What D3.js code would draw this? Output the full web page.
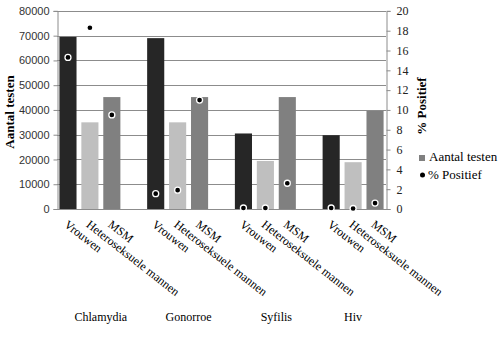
<!DOCTYPE html>
<html>
<head>
<meta charset="utf-8">
<script src="https://cdn.jsdelivr.net/npm/d3@7"></script>
<style>
  body { margin: 0; background: #fff; }
  svg { display: block; }
</style>
</head>
<body>
<svg id="chart" width="500" height="339"></svg>
<script>
// ---- data ----
const groups = ["Chlamydia", "Gonorroe", "Syfilis", "Hiv"];
const subgroups = ["Vrouwen", "Heteroseksuele mannen", "MSM"];
const testsVrouwen = [69500, 69000, 30500, 29800];
const testsHetero  = [35000, 35000, 19400, 18900];
const testsMSM     = [45200, 45200, 45200, 39600];
const pctVrouwen = [15.3, 1.55, 0.1, 0.1];
const pctHetero  = [18.3, 1.9, 0.1, 0.05];
const pctMSM     = [9.5, 11.0, 2.6, 0.6];
const leftTicks  = [0, 10000, 20000, 30000, 40000, 50000, 60000, 70000, 80000];
const rightTicks = [0, 2, 4, 6, 8, 10, 12, 14, 16, 18, 20];
const seriesNames = ["Aantal testen", "% Positief"];

const testsBySub = [testsVrouwen, testsHetero, testsMSM];
const pctBySub = [pctVrouwen, pctHetero, pctMSM];
const subColors = ["#262626", "#bfbfbf", "#808080"];

// build slot list: 3 bars per group, a blank slot between groups
const slots = [];
groups.forEach((g, gi) => {
  subgroups.forEach((s, si) => {
    slots.push({key: g + "|" + s, group: g, gi, sub: s, si,
      tests: testsBySub[si][gi], pct: pctBySub[si][gi]});
  });
  if (gi < groups.length - 1) slots.push({key: "blank" + gi, blank: true, gi});
});

const svg = d3.select("#chart");
const L = 57, R = 386, T = 10.9, B = 209;
const serif = "Liberation Serif, Times New Roman, serif";

const x = d3.scaleBand().domain(slots.map(d => d.key)).range([L, R])
  .paddingInner(0.22).paddingOuter(0.11);
const y = d3.scaleLinear().domain([0, 80000]).range([B, T]);
const y2 = d3.scaleLinear().domain([0, 20]).range([B, T]);

// gridlines
svg.append("g").selectAll("line").data(leftTicks.slice(1)).join("line")
  .attr("x1", L).attr("x2", R)
  .attr("y1", d => Math.round(y(d)) + 0.5).attr("y2", d => Math.round(y(d)) + 0.5)
  .attr("stroke", "#8c8c8c").attr("stroke-width", 1);

// bars
const barData = slots.filter(d => !d.blank);
svg.append("g").selectAll("rect").data(barData).join("rect")
  .attr("x", d => x(d.key))
  .attr("width", x.bandwidth())
  .attr("y", d => y(d.tests))
  .attr("height", d => B - y(d.tests))
  .attr("fill", d => subColors[d.si]);

// left axis
const gL = svg.append("g").attr("transform", `translate(${L + 0.5},0)`)
  .call(d3.axisLeft(y).tickValues(leftTicks).tickSize(4).tickPadding(4).tickFormat(d3.format("d")));
gL.select(".domain").attr("stroke", "#8c8c8c");
gL.selectAll(".tick line").attr("stroke", "#8c8c8c");
gL.selectAll("text").attr("font-family", "Liberation Sans, Arial, sans-serif")
  .attr("font-size", 11).attr("fill", "#333");

// right axis
const gR = svg.append("g").attr("transform", `translate(${R + 0.5},0)`)
  .call(d3.axisRight(y2).tickValues(rightTicks).tickSize(4).tickPadding(6));
gR.select(".domain").attr("stroke", "#8c8c8c");
gR.selectAll(".tick line").attr("stroke", "#8c8c8c");
gR.selectAll("text").attr("font-family", serif)
  .attr("font-size", 12).attr("fill", "#222");

// baseline
svg.append("line").attr("x1", L - 3).attr("x2", R + 4)
  .attr("y1", B + 0.5).attr("y2", B + 0.5).attr("stroke", "#8c8c8c");

// dots
svg.append("g").selectAll("circle").data(barData).join("circle")
  .attr("cx", d => x(d.key) + x.bandwidth() / 2)
  .attr("cy", d => y2(d.pct))
  .attr("r", 3)
  .attr("fill", "#000").attr("stroke", "#fff").attr("stroke-width", 1.3);

// category labels (rotated)
svg.append("g").selectAll("text").data(barData).join("text")
  .attr("transform", d => `translate(${x(d.key) + x.bandwidth() / 2 - 4.5},${B + 17}) rotate(38)`)
  .attr("font-family", serif)
  .attr("font-size", 12).attr("fill", "#000")
  .text(d => d.sub);

// group labels
groups.forEach((g, gi) => {
  const gs = slots.filter(s => s.gi === gi);
  const x0 = x(gs[0].key) - x.step() * x.paddingInner() / 2;
  const x1 = x(gs[gs.length - 1].key) + x.bandwidth() + x.step() * x.paddingInner() / 2;
  svg.append("text")
    .attr("x", (x0 + x1) / 2).attr("y", 321)
    .attr("text-anchor", "middle")
    .attr("font-family", serif)
    .attr("font-size", 12).attr("fill", "#000")
    .text(g);
});

// axis titles
svg.append("text")
  .attr("transform", `translate(14,112) rotate(-90)`)
  .attr("text-anchor", "middle")
  .attr("font-family", serif)
  .attr("font-weight", "bold").attr("font-size", 13)
  .text("Aantal testen");
svg.append("text")
  .attr("transform", `translate(426,106) rotate(-90)`)
  .attr("text-anchor", "middle")
  .attr("font-family", serif)
  .attr("font-weight", "bold").attr("font-size", 13)
  .text("% Positief");

// legend
const leg = svg.append("g");
leg.append("rect").attr("x", 419).attr("y", 155).attr("width", 6).attr("height", 6).attr("fill", "#808080");
leg.append("text").attr("x", 429).attr("y", 161)
  .attr("font-family", serif).attr("font-size", 13)
  .text(seriesNames[0]);
leg.append("circle").attr("cx", 422.5).attr("cy", 175).attr("r", 2.5).attr("fill", "#000");
leg.append("text").attr("x", 428).attr("y", 179)
  .attr("font-family", serif).attr("font-size", 13)
  .text(seriesNames[1]);
</script>
</body>
</html>
